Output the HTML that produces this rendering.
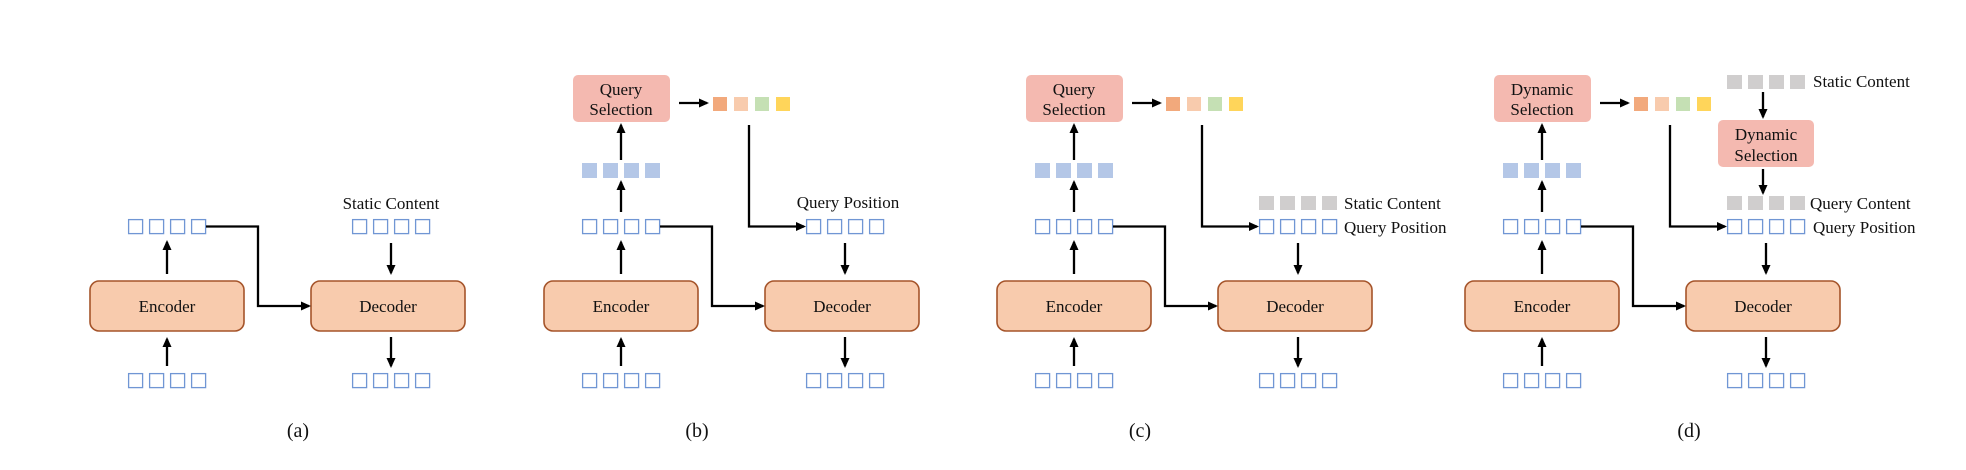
<!DOCTYPE html>
<html><head><meta charset="utf-8"><style>
html,body{margin:0;padding:0;background:#fff;}
svg{display:block;}
text{font-family:"Liberation Serif",serif;fill:#111;}
</style></head><body>
<svg width="1966" height="470" viewBox="0 0 1966 470" xmlns="http://www.w3.org/2000/svg">
<defs>
<marker id="ah" markerWidth="10" markerHeight="10" refX="8" refY="5" orient="auto" markerUnits="userSpaceOnUse">
<path d="M0,0.5 L10,5 L0,9.5 Z" fill="#000"/>
</marker>
<g id="osq"><rect x="0.6" y="0.6" width="14" height="14" fill="none" stroke="#7096d4" stroke-width="1.3"/><rect x="21.6" y="0.6" width="14" height="14" fill="none" stroke="#7096d4" stroke-width="1.3"/><rect x="42.6" y="0.6" width="14" height="14" fill="none" stroke="#7096d4" stroke-width="1.3"/><rect x="63.6" y="0.6" width="14" height="14" fill="none" stroke="#7096d4" stroke-width="1.3"/></g>
<g id="bsq" fill="#b4c7e7"><rect x="0" y="0" width="15" height="15"/><rect x="21" y="0" width="15" height="15"/><rect x="42" y="0" width="15" height="15"/><rect x="63" y="0" width="15" height="15"/></g>
<g id="gsq" fill="#d0cece"><rect x="0" y="0" width="15" height="14"/><rect x="21" y="0" width="15" height="14"/><rect x="42" y="0" width="15" height="14"/><rect x="63" y="0" width="15" height="14"/></g>
<g id="csq"><rect x="0" y="0" width="14" height="14" fill="#f2a97c"/><rect x="21" y="0" width="14" height="14" fill="#f8cbad"/><rect x="42" y="0" width="14" height="14" fill="#c5e0b4"/><rect x="63" y="0" width="14" height="14" fill="#ffd55a"/></g>
<g id="base">
<rect x="90" y="281" width="154" height="50" rx="9" fill="#f8cbad" stroke="#a5542a" stroke-width="1.6"/>
<text x="167" y="312" font-size="17" text-anchor="middle">Encoder</text>
<rect x="311" y="281" width="154" height="50" rx="9" fill="#f8cbad" stroke="#a5542a" stroke-width="1.6"/>
<text x="388" y="312" font-size="17" text-anchor="middle">Decoder</text>
<use href="#osq" x="128" y="373"/>
<use href="#osq" x="128" y="219"/>
<use href="#osq" x="352" y="219"/>
<use href="#osq" x="352" y="373"/>
<g stroke="#000" stroke-width="2.3" fill="none">
<line x1="167" y1="366" x2="167" y2="339" marker-end="url(#ah)"/>
<line x1="167" y1="274" x2="167" y2="242" marker-end="url(#ah)"/>
<line x1="391" y1="243" x2="391" y2="273" marker-end="url(#ah)"/>
<line x1="391" y1="337" x2="391" y2="366" marker-end="url(#ah)"/>
<path d="M206,226.5 H258 V306 H309" marker-end="url(#ah)"/>
</g>
</g>
<g id="qs">
<use href="#bsq" x="128" y="163"/>
<use href="#csq" x="259" y="97"/>
<g stroke="#000" stroke-width="2.3" fill="none">
<line x1="167" y1="212" x2="167" y2="182" marker-end="url(#ah)"/>
<line x1="167" y1="160" x2="167" y2="125" marker-end="url(#ah)"/>
<line x1="225" y1="103" x2="253" y2="103" marker-end="url(#ah)"/>
<path d="M295,125 V226.5 H350" marker-end="url(#ah)"/>
</g>
<rect x="119" y="75" width="97" height="47" rx="5" fill="#f4b9b0"/>
</g>
</defs>

<!-- (a) -->
<use href="#base"/>
<text x="391" y="209" font-size="17" text-anchor="middle">Static Content</text>
<text x="298" y="437" font-size="20" text-anchor="middle">(a)</text>

<!-- (b) -->
<g transform="translate(454,0)">
<use href="#base"/><use href="#qs"/>
<text x="167" y="95" font-size="17" text-anchor="middle">Query</text>
<text x="167" y="115" font-size="17" text-anchor="middle">Selection</text>
<text x="394" y="208" font-size="17" text-anchor="middle">Query Position</text>
</g>
<text x="697" y="437" font-size="20" text-anchor="middle">(b)</text>

<!-- (c) -->
<g transform="translate(907,0)">
<use href="#base"/><use href="#qs"/>
<text x="167" y="95" font-size="17" text-anchor="middle">Query</text>
<text x="167" y="115" font-size="17" text-anchor="middle">Selection</text>
<use href="#gsq" x="352" y="196"/>
<text x="437" y="209" font-size="17">Static Content</text>
<text x="437" y="233" font-size="17">Query Position</text>
</g>
<text x="1140" y="437" font-size="20" text-anchor="middle">(c)</text>

<!-- (d) -->
<g transform="translate(1375,0)">
<use href="#base"/><use href="#qs"/>
<text x="167" y="95" font-size="17" text-anchor="middle">Dynamic</text>
<text x="167" y="115" font-size="17" text-anchor="middle">Selection</text>
<use href="#gsq" x="352" y="75"/>
<text x="438" y="87" font-size="17">Static Content</text>
<g stroke="#000" stroke-width="2.3" fill="none">
<line x1="388" y1="92" x2="388" y2="117" marker-end="url(#ah)"/>
<line x1="388" y1="169" x2="388" y2="193" marker-end="url(#ah)"/>
</g>
<rect x="343" y="120" width="96" height="47" rx="5" fill="#f4b9b0"/>
<text x="391" y="140" font-size="17" text-anchor="middle">Dynamic</text>
<text x="391" y="161" font-size="17" text-anchor="middle">Selection</text>
<use href="#gsq" x="352" y="196"/>
<text x="435" y="209" font-size="17">Query Content</text>
<text x="438" y="233" font-size="17">Query Position</text>
</g>
<text x="1689" y="437" font-size="20" text-anchor="middle">(d)</text>
</svg>
</body></html>
